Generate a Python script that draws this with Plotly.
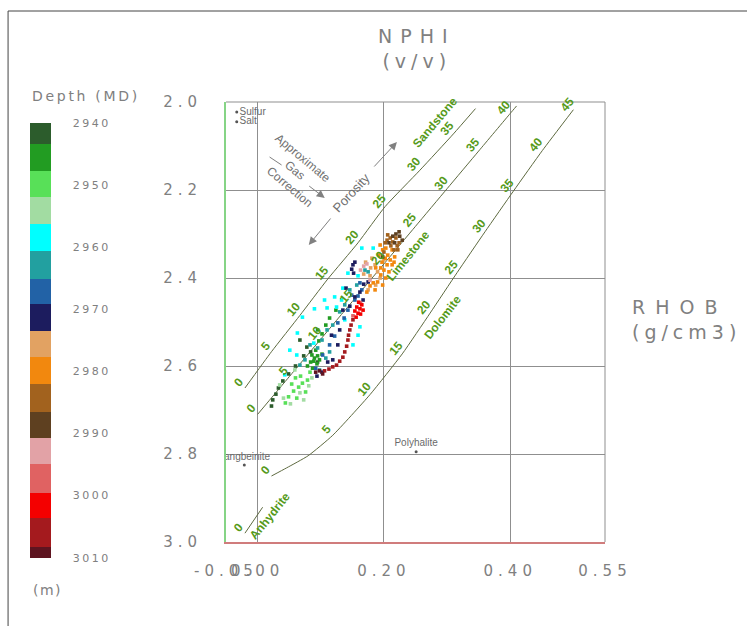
import plotly.graph_objects as go

# ---------------- Depth colour bands (MD, m) ----------------
band_edges = [2940.0, 2943.3, 2947.7, 2951.9, 2956.2, 2960.6, 2965.1, 2969.2, 2973.4,
              2977.7, 2982.0, 2986.5, 2990.7, 2994.9, 2999.5, 3003.5, 3008.3, 3010.0]
band_colors = ["#2c5c2c", "#229c22", "#58e058", "#a2dca2", "#00ffff", "#22a0a0", "#2262a6",
               "#1c1c5e", "#e2a262", "#f2880e", "#a2621e", "#5e4020", "#e2a2a6", "#e06262",
               "#f40000", "#a41a1e", "#5e1420"]
depth_ticks = [2940, 2950, 2960, 2970, 2980, 2990, 3000, 3010]

# ---------------- Log samples: NPHI (v/v), RHOB (g/cm3), depth (m) ----------------
green_nphi = [0.022, 0.024, 0.029, 0.033, 0.040, 0.049, 0.060, 0.073, 0.078, 0.084, 0.067, 0.095,
              0.086, 0.090, 0.095, 0.089, 0.098, 0.094, 0.084, 0.102, 0.092, 0.097, 0.102, 0.095,
              0.108, 0.114, 0.124, 0.079, 0.087,
              0.044, 0.049, 0.057, 0.065, 0.071, 0.076, 0.062, 0.079, 0.054, 0.068, 0.083, 0.060,
              0.041, 0.052, 0.067, 0.073, 0.081, 0.035, 0.059, 0.086]
green_rhob = [2.691, 2.677, 2.664, 2.650, 2.634, 2.618, 2.600, 2.577, 2.557, 2.568, 2.541, 2.591,
              2.575, 2.582, 2.577, 2.589, 2.586, 2.595, 2.591, 2.573, 2.564, 2.543, 2.527, 2.518,
              2.507, 2.491, 2.473, 2.600, 2.605,
              2.684, 2.670, 2.657, 2.648, 2.639, 2.659, 2.673, 2.632, 2.641, 2.623, 2.614, 2.627,
              2.673, 2.686, 2.661, 2.677, 2.645, 2.643, 2.609, 2.627]
green_depth = [2940.2, 2940.5, 2940.8, 2941.0, 2941.3, 2941.6, 2941.9, 2942.1, 2942.4, 2942.7, 2942.9, 2943.1,
               2943.5, 2943.7, 2944.0, 2944.2, 2944.5, 2944.7, 2945.0, 2945.2, 2945.5, 2945.7, 2946.0, 2946.2,
               2946.5, 2946.7, 2947.0, 2947.2, 2947.5,
               2947.9, 2948.2, 2948.6, 2948.9, 2949.2, 2949.6, 2949.9, 2950.2, 2950.6, 2950.9, 2951.2, 2951.6,
               2952.2, 2952.7, 2953.2, 2953.7, 2954.2, 2954.7, 2955.2, 2955.8]

blue_nphi = [0.165, 0.183, 0.143, 0.159, 0.125, 0.110, 0.090, 0.071, 0.063, 0.089, 0.122, 0.133,
             0.162, 0.151, 0.062, 0.043, 0.159, 0.135, 0.106, 0.051, 0.138,
             0.170, 0.175, 0.157, 0.146, 0.138, 0.130, 0.119, 0.110, 0.102, 0.095, 0.083, 0.075,
             0.067, 0.114, 0.108, 0.098,
             0.165, 0.159, 0.154, 0.149, 0.162, 0.143, 0.137, 0.127, 0.122, 0.114, 0.103, 0.092,
             0.154, 0.151, 0.149, 0.152, 0.168, 0.162, 0.154, 0.146, 0.135, 0.130, 0.117, 0.127,
             0.119, 0.111, 0.102, 0.094, 0.140, 0.175, 0.167]
blue_rhob = [2.332, 2.332, 2.389, 2.395, 2.466, 2.468, 2.470, 2.489, 2.525, 2.548, 2.443, 2.450,
             2.511, 2.552, 2.575, 2.620, 2.530, 2.423, 2.450, 2.564, 2.495,
             2.382, 2.386, 2.416, 2.427, 2.461, 2.477, 2.507, 2.518, 2.541, 2.559, 2.552, 2.586,
             2.598, 2.568, 2.582, 2.609,
             2.427, 2.441, 2.450, 2.439, 2.411, 2.473, 2.491, 2.502, 2.532, 2.552, 2.575, 2.605,
             2.364, 2.370, 2.380, 2.389, 2.414, 2.432, 2.443, 2.464, 2.473, 2.518, 2.530, 2.552,
             2.586, 2.591, 2.614, 2.623, 2.423, 2.409, 2.450]
blue_depth = [2956.4, 2956.6, 2956.8, 2957.0, 2957.2, 2957.4, 2957.6, 2957.8, 2958.0, 2958.2, 2958.4, 2958.6,
              2958.8, 2959.0, 2959.2, 2959.4, 2959.6, 2959.8, 2960.0, 2960.2, 2960.4,
              2960.8, 2961.1, 2961.3, 2961.6, 2961.8, 2962.1, 2962.3, 2962.6, 2962.8, 2963.1, 2963.3, 2963.6,
              2963.8, 2964.1, 2964.4, 2964.8,
              2965.3, 2965.6, 2966.0, 2966.3, 2966.6, 2967.0, 2967.3, 2967.6, 2968.0, 2968.3, 2968.6, 2969.0,
              2969.4, 2969.6, 2969.8, 2970.0, 2970.2, 2970.4, 2970.6, 2970.8, 2971.0, 2971.2, 2971.4, 2971.6,
              2971.8, 2972.0, 2972.2, 2972.4, 2972.6, 2972.8, 2973.0]

orange_nphi = [0.181, 0.186, 0.190, 0.194, 0.178, 0.171, 0.200, 0.187, 0.175, 0.179, 0.168,
               0.194, 0.198, 0.203, 0.206, 0.202, 0.210, 0.197, 0.205, 0.213, 0.200, 0.208, 0.195,
               0.203, 0.190, 0.198, 0.186, 0.183, 0.213, 0.217, 0.192, 0.187, 0.178, 0.173, 0.216, 0.195,
               0.205, 0.210, 0.214, 0.219, 0.224, 0.211, 0.206, 0.216, 0.222, 0.202, 0.221, 0.200,
               0.219, 0.225, 0.229, 0.224, 0.214, 0.217, 0.208, 0.198]
orange_rhob = [2.355, 2.370, 2.386, 2.400, 2.395, 2.364, 2.359, 2.416, 2.427, 2.377, 2.391,
               2.325, 2.336, 2.332, 2.348, 2.355, 2.359, 2.364, 2.370, 2.370, 2.382, 2.386, 2.393,
               2.400, 2.409, 2.416, 2.427, 2.411, 2.336, 2.352, 2.348, 2.377, 2.418, 2.432, 2.364, 2.377,
               2.314, 2.309, 2.318, 2.309, 2.320, 2.327, 2.302, 2.336, 2.336, 2.320, 2.327, 2.341,
               2.300, 2.305, 2.314, 2.295, 2.305, 2.320, 2.320, 2.352]
orange_depth = [2973.6, 2974.0, 2974.4, 2974.8, 2975.2, 2975.6, 2976.0, 2976.4, 2976.8, 2977.1, 2977.4,
                2977.8, 2978.0, 2978.1, 2978.3, 2978.5, 2978.6, 2978.8, 2979.0, 2979.2, 2979.3, 2979.5, 2979.7,
                2979.8, 2980.0, 2980.2, 2980.3, 2980.5, 2980.7, 2980.8, 2981.0, 2981.2, 2981.3, 2981.5, 2981.7, 2981.9,
                2982.2, 2982.5, 2982.9, 2983.2, 2983.6, 2983.9, 2984.3, 2984.6, 2985.0, 2985.3, 2985.7, 2986.1,
                2986.8, 2987.3, 2987.8, 2988.3, 2988.8, 2989.3, 2989.8, 2990.3]

red_nphi = [0.168, 0.173, 0.163, 0.178,
            0.163, 0.151,
            0.157, 0.162, 0.165, 0.159, 0.154, 0.163, 0.167, 0.156, 0.160,
            0.151, 0.148, 0.146, 0.144, 0.143, 0.141, 0.138, 0.135, 0.130, 0.125, 0.119, 0.113, 0.106,
            0.098, 0.092, 0.103]
red_rhob = [2.373, 2.368, 2.382, 2.405,
            2.457, 2.486,
            2.466, 2.470, 2.461, 2.480, 2.475, 2.482, 2.473, 2.489, 2.455,
            2.495, 2.507, 2.518, 2.530, 2.541, 2.555, 2.568, 2.580, 2.589, 2.598, 2.602, 2.607, 2.611,
            2.611, 2.614, 2.618]
red_depth = [2991.2, 2992.2, 2993.2, 2994.2,
             2996.0, 2998.0,
             2999.7, 3000.1, 3000.5, 3000.9, 3001.3, 3001.7, 3002.1, 3002.5, 3003.0,
             3003.7, 3004.0, 3004.4, 3004.7, 3005.1, 3005.4, 3005.8, 3006.1, 3006.5, 3006.8, 3007.2, 3007.5, 3007.9,
             3008.6, 3009.1, 3009.6]

# ---------------- Lithology porosity lines (porosity in %) ----------------
ss_por = [0, 5, 10, 15, 20, 25, 30, 35, 38.5]
ss_nphi = [-0.020, 0.022, 0.067, 0.111, 0.159, 0.202, 0.257, 0.310, 0.345]
ss_rhob = [2.650, 2.5675, 2.485, 2.4025, 2.320, 2.2375, 2.155, 2.0725, 2.015]

ls_por = [0, 5, 10, 15, 20, 25, 30, 35, 40, 41]
ls_nphi = [0.00, 0.05, 0.10, 0.15, 0.20, 0.25, 0.30, 0.35, 0.40, 0.41]
ls_rhob = [2.710, 2.6245, 2.539, 2.4535, 2.368, 2.2825, 2.197, 2.1115, 2.026, 2.009]

dol_por = [0, 1, 2.5, 5, 10, 15, 20, 25, 30, 35, 40, 45]
dol_nphi = [0.022, 0.046, 0.080, 0.119, 0.178, 0.229, 0.273, 0.316, 0.360, 0.405, 0.451, 0.500]
dol_rhob = [2.850, 2.8315, 2.804, 2.7575, 2.665, 2.5725, 2.480, 2.3875, 2.295, 2.2025, 2.110, 2.0175]

anh_por = [0, 3]
anh_nphi = [-0.020, 0.008]
anh_rhob = [2.980, 2.921]

# ---------------- Minerals ----------------
mineral_names = ["Sulfur", "Salt", "Langbeinite", "Polyhalite"]
mineral_nphi = [-0.033, -0.033, -0.021, 0.251]
mineral_rhob = [2.023, 2.045, 2.825, 2.795]

# ---------------- Axis ticks ----------------
x_tick_vals = [-0.05, 0.0, 0.20, 0.40, 0.55]
x_tick_text = ["-0.05", "0.00", "0.20", "0.40", "0.55"]
y_tick_vals = [2.0, 2.2, 2.4, 2.6, 2.8, 3.0]
y_tick_text = ["2.0", "2.2", "2.4", "2.6", "2.8", "3.0"]

# ================= styling =================
GRAY_TXT = "#808080"
GRID = "#8f8f8f"
LITH_LINE = "#5e6a40"
LITH_TXT = "#559a1a"


def sp(text, s):
    return '<span style="letter-spacing:%spx">%s</span>' % (s, text)


nphi_all = green_nphi + blue_nphi + orange_nphi + red_nphi
rhob_all = green_rhob + blue_rhob + orange_rhob + red_rhob
depth_all = green_depth + blue_depth + orange_depth + red_depth

# colour bar runs downward (shallow at top): map on negated depth
d_top, d_bot = band_edges[0], band_edges[-1]
span_d = d_bot - d_top
colorscale = []
for i in reversed(range(len(band_colors))):
    colorscale.append([(d_bot - band_edges[i + 1]) / span_d, band_colors[i]])
    colorscale.append([(d_bot - band_edges[i]) / span_d, band_colors[i]])
neg_depth = [-d for d in depth_all]

fig = go.Figure()

for xs, ys in [(ss_nphi, ss_rhob), (ls_nphi, ls_rhob), (dol_nphi, dol_rhob), (anh_nphi, anh_rhob)]:
    fig.add_trace(go.Scatter(x=xs, y=ys, mode="lines",
                             line=dict(color=LITH_LINE, width=1, shape="spline", smoothing=0.5),
                             hoverinfo="skip", showlegend=False, cliponaxis=True))

fig.add_trace(go.Scatter(
    x=mineral_nphi, y=mineral_rhob, mode="markers+text", text=mineral_names,
    textposition=["middle right", "middle right", "top center", "top center"],
    textfont=dict(family="Liberation Sans", size=10, color="#6a6a6a"),
    marker=dict(size=3, color="#555555"), cliponaxis=True, showlegend=False, hoverinfo="skip"))

fig.add_trace(go.Scatter(
    x=nphi_all, y=rhob_all, mode="markers", showlegend=False, hoverinfo="skip",
    marker=dict(symbol="square", size=3.6, color=neg_depth, colorscale=colorscale,
                cmin=-d_bot, cmax=-d_top, line=dict(width=0),
                colorbar=dict(xref="container", yref="paper", x=30 / 747, xanchor="left",
                              y=0.953, yanchor="top", len=0.9886, lenmode="fraction",
                              thickness=21, thicknessmode="pixels", xpad=0, ypad=0,
                              outlinewidth=0, tickvals=[-t for t in depth_ticks],
                              ticktext=[sp(str(t), 2.5) for t in depth_ticks],
                              ticks="outside", ticklen=20, tickcolor="rgba(0,0,0,0)",
                              tickfont=dict(family="DejaVu Sans", size=11, color=GRAY_TXT))),
    cliponaxis=True))

# porosity labels
lab_font = dict(family="Liberation Sans", size=12, color=LITH_TXT)
for por, xs, ys in [(ss_por, ss_nphi, ss_rhob), (ls_por, ls_nphi, ls_rhob),
                    (dol_por, dol_nphi, dol_rhob), (anh_por, anh_nphi, anh_rhob)]:
    for p, x, y in zip(por, xs, ys):
        if p % 5 == 0:
            fig.add_annotation(x=x, y=y, text="<b>%d</b>" % p, showarrow=False, textangle=-50,
                               xshift=-6, yshift=6, font=lab_font)

# lithology names anchored on curve points
fig.add_annotation(x=ss_nphi[7], y=ss_rhob[7], text="<b>Sandstone</b>", showarrow=False,
                   textangle=-50, xshift=-18, yshift=12, font=lab_font)
fig.add_annotation(x=ls_nphi[4], y=ls_rhob[4], text="<b>Limestone</b>", showarrow=False,
                   textangle=-51, xshift=24, yshift=8, font=lab_font)
fig.add_annotation(x=dol_nphi[6], y=dol_rhob[6], text="<b>Dolomite</b>", showarrow=False,
                   textangle=-52, xshift=13, yshift=-4, font=lab_font)
fig.add_annotation(x=anh_nphi[0], y=anh_rhob[0], text="<b>Anhydrite</b>", showarrow=False,
                   textangle=-51, xshift=25, yshift=17, font=lab_font)

# gas correction / porosity guides
note_font = dict(family="Liberation Sans", size=12, color="#707070")
fig.add_annotation(x=0.0714, y=2.1273, text="Approximate", showarrow=False, textangle=40, font=note_font)
fig.add_annotation(x=0.0587, y=2.1545, text="Gas", showarrow=False, textangle=40, font=note_font)
fig.add_annotation(x=0.0508, y=2.1932, text="Correction", showarrow=False, textangle=40, font=note_font)
fig.add_annotation(x=0.1492, y=2.2068, text="Porosity", showarrow=False, textangle=-47,
                   font=dict(family="Liberation Sans", size=13, color="#707070"))
arrow_kw = dict(showarrow=True, arrowhead=2, arrowsize=1.6, arrowwidth=1, arrowcolor="#808080",
                axref="x", ayref="y", text="")
fig.add_annotation(x=0.1063, y=2.218, ax=0.0794, ay=2.1886, **arrow_kw)
fig.add_annotation(x=0.2206, y=2.0909, ax=0.1825, ay=2.150, **arrow_kw)
fig.add_annotation(x=0.081, y=2.325, ax=0.1175, ay=2.2614, **arrow_kw)
fig.add_shape(type="line", xref="x", yref="y", x0=0.019, y0=2.125, x1=0.038, y1=2.1432,
              line=dict(color="#808080", width=1))

# titles
fig.add_annotation(xref="paper", yref="paper", x=0.504, y=1.1227, xanchor="center", yanchor="middle",
                   text=sp("NPHI", 8) + "<br>" + sp("(v/v)", 5), showarrow=False,
                   font=dict(family="DejaVu Sans", size=19, color=GRAY_TXT))
fig.add_annotation(xref="paper", yref="paper", x=1.066, y=0.5057, xanchor="left", yanchor="middle",
                   align="left", text=sp("RHOB", 10) + "<br>" + sp("(g/cm3)", 5), showarrow=False,
                   font=dict(family="DejaVu Sans", size=19, color=GRAY_TXT))
fig.add_annotation(xref="paper", yref="paper", x=-0.517, y=1.0136, xanchor="left", yanchor="middle",
                   text=sp("Depth (MD)", 2.7), showarrow=False,
                   font=dict(family="DejaVu Sans", size=14, color=GRAY_TXT))
fig.add_annotation(xref="paper", yref="paper", x=-0.514, y=-0.109, xanchor="left", yanchor="middle",
                   text=sp("(m)", 1.5), showarrow=False,
                   font=dict(family="DejaVu Sans", size=14, color=GRAY_TXT))

# plot border (top/right) and page frame
fig.add_shape(type="line", xref="paper", yref="paper", x0=0, y0=1, x1=1, y1=1, line=dict(color=GRID, width=1))
fig.add_shape(type="line", xref="paper", yref="paper", x0=1, y0=0, x1=1, y1=1, line=dict(color=GRID, width=1))
fig.add_shape(type="line", xref="paper", yref="paper", x0=-0.575, y0=-0.3, x1=-0.575, y1=1.2068,
              line=dict(color="#444444", width=1))
fig.add_shape(type="line", xref="paper", yref="paper", x0=-0.575, y0=1.2068, x1=1.5, y1=1.2068,
              line=dict(color="#444444", width=1))

fig.update_layout(
    width=747, height=626,
    margin=dict(l=226, r=142, t=102, b=84, autoexpand=False),
    paper_bgcolor="white", plot_bgcolor="white", showlegend=False,
    xaxis=dict(range=[-0.05, 0.55], tickvals=x_tick_vals, ticktext=[sp(t, 5) for t in x_tick_text],
               tickangle=0, showgrid=True, gridcolor=GRID, gridwidth=1, zeroline=False,
               showline=True, linecolor="#d07c7c", linewidth=1.5, ticks="",
               tickfont=dict(family="DejaVu Sans", size=15, color=GRAY_TXT),
               ticklabelstandoff=14, automargin=False, fixedrange=True),
    yaxis=dict(range=[3.0, 2.0], tickvals=y_tick_vals, ticktext=[sp(t, 5) for t in y_tick_text],
               showgrid=True, gridcolor=GRID, gridwidth=1, zeroline=False,
               showline=True, linecolor="#86d486", linewidth=2, ticks="",
               tickfont=dict(family="DejaVu Sans", size=15, color=GRAY_TXT),
               ticklabelstandoff=19, automargin=False, fixedrange=True),
)

fig.write_html("out.html", config={"displayModeBar": False},
               post_script="document.body.style.margin='0px';document.body.style.overflow='hidden';")
